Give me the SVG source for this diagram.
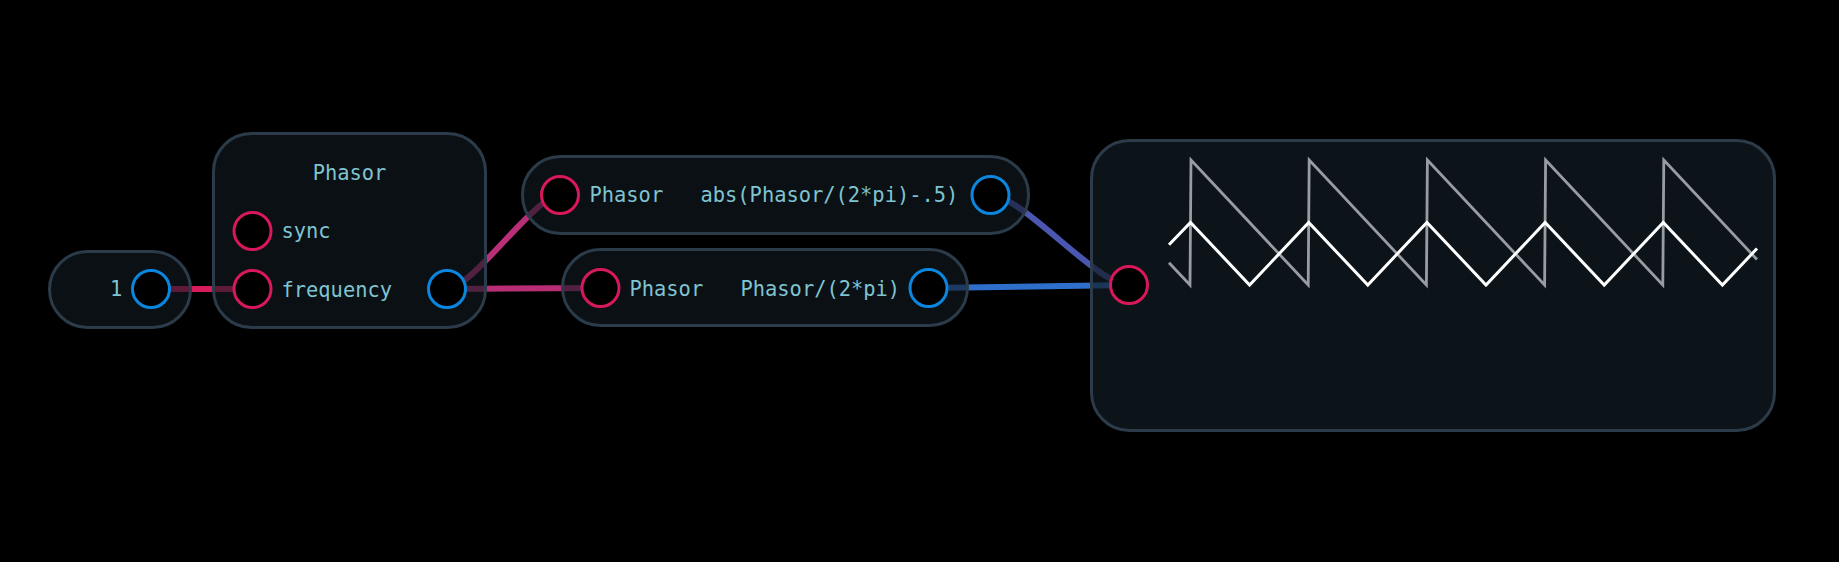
<svg xmlns="http://www.w3.org/2000/svg" width="1839" height="562" viewBox="0 0 1839 562">
<style>
.node{fill:#111a22;fill-opacity:0.62;stroke:#2b3b49;stroke-width:3}
.pin{fill:#000;stroke:#d7185a;stroke-width:3}
.pout{fill:#000;stroke:#0a86de;stroke-width:3}
.lbl{font-family:"DejaVu Sans Mono","Liberation Mono",monospace;font-size:20.4px;fill:#7fc4d0}
.wire{fill:none;stroke-width:6}
</style>
<rect x="0" y="0" width="1839" height="562" fill="#000"/>
<g id="connectors">
<path class="wire" d="M151,289 L252,289" stroke="#d81b5a"/>
<path class="wire" d="M447,289 C472,289 535,195 560,195" stroke="#b82f78"/>
<path class="wire" d="M447,289 L601,288" stroke="#b82d74"/>
<path class="wire" d="M990,195 C1022,195 1097,285 1129,285" stroke="#4b56b0"/>
<path class="wire" d="M928,288 L1129,285" stroke="#2e6fcc"/>
</g>
<g id="node-const">
<rect class="node" x="49.5" y="251.5" width="141" height="76" rx="38"/>
<text class="lbl" x="110" y="296">1</text>
<circle class="pout" cx="151" cy="289" r="18.5"/>
</g>
<g id="node-phasor">
<rect class="node" x="213.5" y="133.5" width="272" height="194" rx="38"/>
<text class="lbl" x="349.5" y="180" text-anchor="middle">Phasor</text>
<circle class="pin" cx="252.5" cy="231" r="18.5"/>
<text class="lbl" x="281.5" y="238">sync</text>
<circle class="pin" cx="252.5" cy="289" r="18.5"/>
<text class="lbl" x="281.5" y="296.5">frequency</text>
<circle class="pout" cx="447" cy="289" r="18.5"/>
</g>
<g id="node-abs">
<rect class="node" x="522.5" y="156.5" width="506" height="77" rx="38"/>
<circle class="pin" cx="560" cy="195" r="18.5"/>
<text class="lbl" x="589.5" y="202">Phasor</text>
<text class="lbl" x="700.5" y="202">abs(Phasor/(2*pi)-.5)</text>
<circle class="pout" cx="990.5" cy="195" r="18.5"/>
</g>
<g id="node-div">
<rect class="node" x="562.5" y="249.5" width="405" height="76" rx="38"/>
<circle class="pin" cx="600.5" cy="288" r="18.5"/>
<text class="lbl" x="629.5" y="295.5">Phasor</text>
<text class="lbl" x="740.5" y="295.5">Phasor/(2*pi)</text>
<circle class="pout" cx="928.5" cy="288" r="18.5"/>
</g>
<g id="node-scope">
<rect class="node" x="1091.5" y="140.5" width="683" height="290" rx="38" style="fill:#131c24;fill-opacity:0.7"/>
<circle class="pin" cx="1129" cy="285" r="18.5"/>
<polyline fill="none" stroke="#979da3" stroke-width="2.8" points="1169,262.8 1190,285 1191,160 1308.2,285 1309.2,160 1426.4,285 1427.4,160 1544.6,285 1545.6,160 1662.8,285 1663.8,160 1757,259.5"/>
<polyline fill="none" stroke="#ffffff" stroke-width="3" points="1169,244.8 1190.5,222.5 1249.6,285 1308.7,222.5 1367.8,285 1426.9,222.5 1486,285 1545.1,222.5 1604.2,285 1663.3,222.5 1722.4,285 1757,248.5"/>
</g>
</svg>
